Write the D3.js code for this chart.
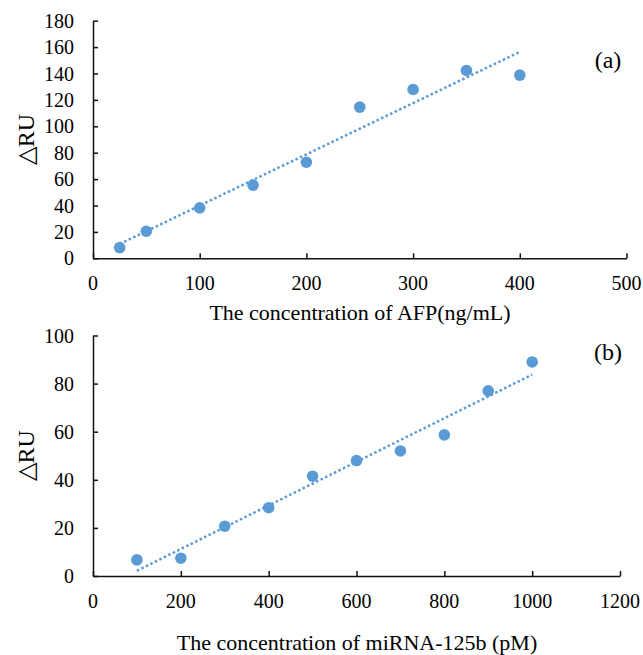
<!DOCTYPE html>
<html>
<head>
<meta charset="utf-8">
<script src="https://cdn.jsdelivr.net/npm/d3@7"></script>
<style>
  body { margin: 0; background: #fff; }
  text { font-family: 'Liberation Serif', 'Times New Roman', serif; fill: #000; }
</style>
</head>
<body>
<div id="chart"></div>
<script>
// Panel (a): AFP
const afpConc = [25, 50, 100, 150, 200, 250, 300, 350, 400]
const afpRU = [8.1, 20.5, 38.2, 55.4, 72.8, 114.5, 127.9, 142.3, 138.8]
const afpXTicks = [0, 100, 200, 300, 400, 500]
const afpYTicks = [0, 20, 40, 60, 80, 100, 120, 140, 160, 180]

// Panel (b): miRNA-125b
const mirConc = [100, 200, 300, 400, 500, 600, 700, 800, 900, 1000]
const mirRU = [6.7, 7.4, 20.7, 28.4, 41.5, 48.0, 52.0, 58.7, 77.0, 89.0]
const mirXTicks = [0, 200, 400, 600, 800, 1000, 1200]
const mirYTicks = [0, 20, 40, 60, 80, 100]

const COLOR = '#5b9bd5'

const svg = d3.select('#chart').append('svg')
  .attr('width', 643)
  .attr('height', 655)

function linearFit (xs, ys) {
  const mx = d3.mean(xs)
  const my = d3.mean(ys)
  let sxy = 0
  let sxx = 0
  xs.forEach((x, i) => {
    sxy += (x - mx) * (ys[i] - my)
    sxx += (x - mx) * (x - mx)
  })
  const slope = sxy / sxx
  return x => my + slope * (x - mx)
}

function drawPanel (opts) {
  const x = d3.scaleLinear().domain(opts.xDomain).range([opts.left, opts.right])
  const y = d3.scaleLinear().domain(opts.yDomain).range([opts.bottom, opts.top])
  const g = svg.append('g')

  // axes, ticks pointing inwards
  g.append('g')
    .attr('transform', `translate(0,${opts.bottom})`)
    .call(d3.axisTop(x).tickValues(opts.xTicks).tickSize(5).tickSizeOuter(0).tickFormat(''))
  g.append('g')
    .attr('transform', `translate(${opts.left},0)`)
    .call(d3.axisRight(y).tickValues(opts.yTicks).tickSize(5).tickSizeOuter(0).tickFormat(''))
  g.selectAll('.domain, .tick line')
    .attr('stroke', '#111')
    .attr('stroke-width', 1.5)

  // tick labels
  g.selectAll('.xlab')
    .data(opts.xTicks)
    .join('text')
    .attr('x', d => x(d))
    .attr('y', opts.bottom + 25)
    .attr('text-anchor', 'middle')
    .attr('dominant-baseline', 'central')
    .style('font-size', '20px')
    .text(d => d)
  g.selectAll('.ylab')
    .data(opts.yTicks)
    .join('text')
    .attr('x', opts.left - 19)
    .attr('y', d => y(d))
    .attr('text-anchor', 'end')
    .attr('dominant-baseline', 'central')
    .style('font-size', '20px')
    .text(d => d)

  // trendline
  const fit = linearFit(opts.xs, opts.ys)
  const x0 = d3.min(opts.xs)
  const x1 = d3.max(opts.xs)
  g.append('line')
    .attr('x1', x(x0))
    .attr('y1', y(fit(x0)))
    .attr('x2', x(x1))
    .attr('y2', y(fit(x1)))
    .attr('stroke', COLOR)
    .attr('stroke-width', 2.5)
    .attr('stroke-dasharray', '2.5 2.5')

  // points
  g.selectAll('circle')
    .data(opts.xs.map((d, i) => [d, opts.ys[i]]))
    .join('circle')
    .attr('cx', d => x(d[0]))
    .attr('cy', d => y(d[1]))
    .attr('r', 5.8)
    .attr('fill', COLOR)

  // labels
  g.append('text')
    .attr('x', opts.titleX)
    .attr('y', opts.titleY)
    .attr('text-anchor', 'middle')
    .attr('dominant-baseline', 'central')
    .style('font-size', '22px')
    .text(opts.xTitle)
  g.append('text')
    .attr('transform', `translate(26,${(opts.top + opts.bottom) / 2}) rotate(-90)`)
    .attr('text-anchor', 'middle')
    .attr('dominant-baseline', 'central')
    .style('font-size', '24px')
    .text('△RU')
  g.append('text')
    .attr('x', 608)
    .attr('y', opts.tagY)
    .attr('text-anchor', 'middle')
    .attr('dominant-baseline', 'central')
    .style('font-size', '24px')
    .text(opts.tag)
}

drawPanel({
  xs: afpConc,
  ys: afpRU,
  xDomain: [0, 500],
  yDomain: [0, 180],
  xTicks: afpXTicks,
  yTicks: afpYTicks,
  left: 93,
  right: 626.5,
  top: 20.7,
  bottom: 258.3,
  xTitle: 'The concentration of AFP(ng/mL)',
  titleX: 360,
  titleY: 312,
  tag: '(a)',
  tagY: 60
})

drawPanel({
  xs: mirConc,
  ys: mirRU,
  xDomain: [0, 1200],
  yDomain: [0, 100],
  xTicks: mirXTicks,
  yTicks: mirYTicks,
  left: 93,
  right: 620,
  top: 335.5,
  bottom: 576,
  xTitle: 'The concentration of miRNA-125b (pM)',
  titleX: 357,
  titleY: 642,
  tag: '(b)',
  tagY: 352
})
</script>
</body>
</html>
